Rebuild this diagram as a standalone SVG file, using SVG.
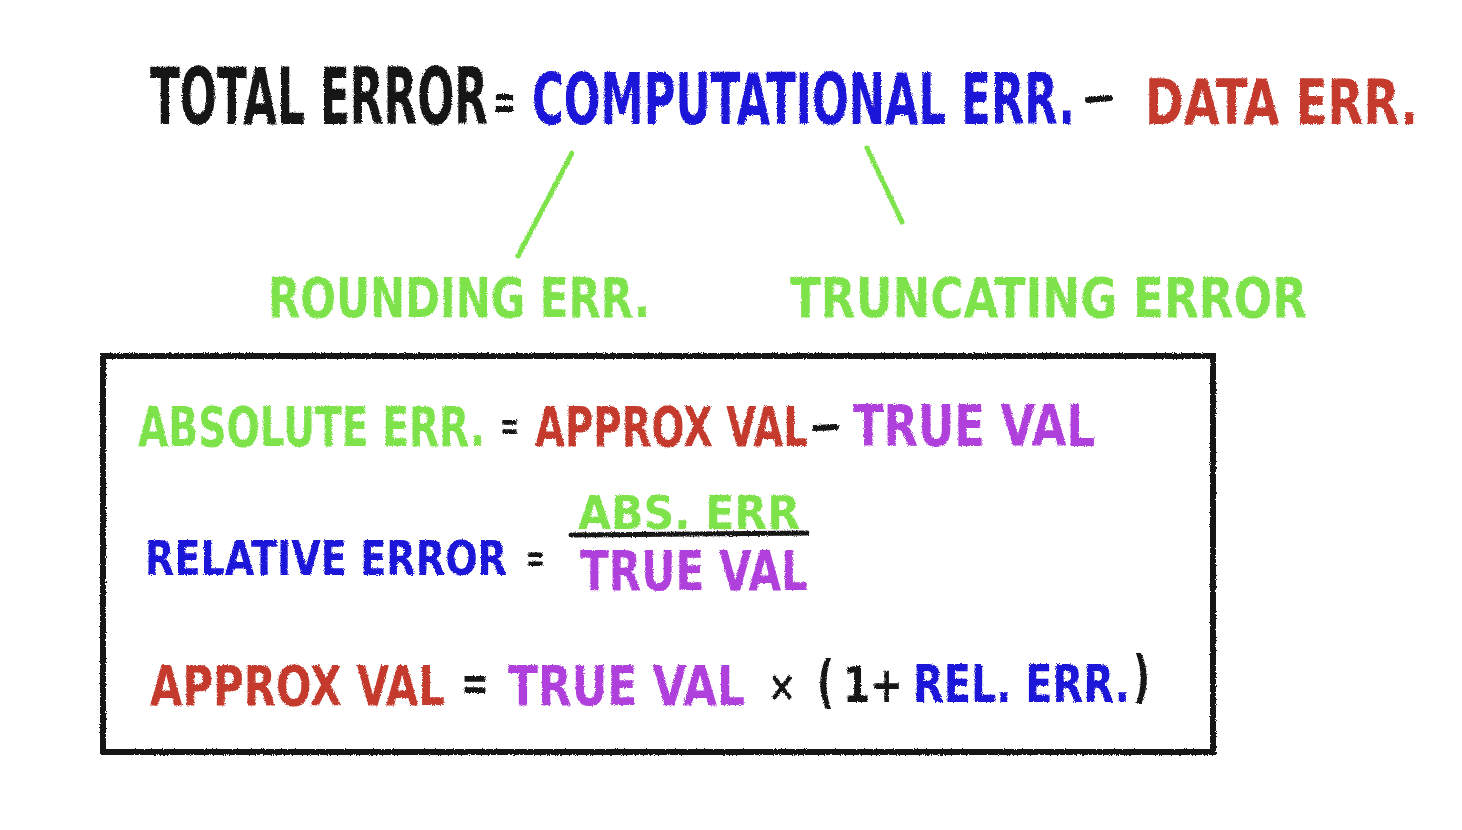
<svg xmlns="http://www.w3.org/2000/svg" width="1462" height="830" viewBox="0 0 1462 830">
<defs>
<filter id="crayon" x="-5%" y="-20%" width="110%" height="140%">
<feTurbulence type="fractalNoise" baseFrequency="0.9" numOctaves="2" seed="3" result="n"/>
<feDisplacementMap in="SourceGraphic" in2="n" scale="3" xChannelSelector="R" yChannelSelector="G"/>
</filter>
<style>
text{font-family:"DejaVu Sans Condensed","Liberation Sans Narrow","Liberation Sans",sans-serif;font-weight:bold;}
.k{fill:#141414}.b{fill:#1a12d8}.r{fill:#c43a2e}.g{fill:#7ee24c}.p{fill:#b040dc}
.ln{stroke-linecap:round;fill:none}
</style>
</defs>
<rect width="1462" height="830" fill="#ffffff"/>
<g filter="url(#crayon)">
<g id="total-error">
<text class="k" transform="translate(150,124) scale(1,1.65)" font-size="48" textLength="338" lengthAdjust="spacingAndGlyphs">TOTAL ERROR</text>
<text class="k" transform="translate(493,119) scale(1,1.3)" font-size="40" textLength="23" lengthAdjust="spacingAndGlyphs">=</text>
</g>
<g id="computational-err">
<text class="b" transform="translate(532,124) scale(1,1.53)" font-size="47" textLength="543" lengthAdjust="spacingAndGlyphs">COMPUTATIONAL ERR.</text>
</g>
<g id="minus-top"><line class="ln" x1="1088" y1="100" x2="1110" y2="98" stroke="#141414" stroke-width="6"/></g>
<g id="data-err">
<text class="r" transform="translate(1145,124) scale(1,1.23)" font-size="50" textLength="273" lengthAdjust="spacingAndGlyphs">DATA ERR.</text>
</g>
<g id="connectors">
<line class="ln" x1="572" y1="153" x2="518" y2="256" stroke="#7ee24c" stroke-width="5"/>
<line class="ln" x1="867" y1="148" x2="902" y2="222" stroke="#7ee24c" stroke-width="5"/>
</g>
<g id="rounding-err">
<text class="g" transform="translate(268,317) scale(1,1.2)" font-size="46" textLength="382" lengthAdjust="spacingAndGlyphs">ROUNDING ERR.</text>
</g>
<g id="truncating-error">
<text class="g" transform="translate(790,317) scale(1,1.13)" font-size="49" textLength="517" lengthAdjust="spacingAndGlyphs">TRUNCATING ERROR</text>
</g>
<g id="formula-box">
<rect x="103" y="356" width="1110" height="396" fill="none" stroke="#141414" stroke-width="6"/>
</g>
<g id="absolute-error">
<text class="g" transform="translate(138,446) scale(1,1.3)" font-size="43" textLength="347" lengthAdjust="spacingAndGlyphs">ABSOLUTE ERR.</text>
<text class="k" transform="translate(500,440) scale(1,1.3)" font-size="32" textLength="19" lengthAdjust="spacingAndGlyphs">=</text>
<text class="r" transform="translate(535,446) scale(1,1.32)" font-size="42" textLength="273" lengthAdjust="spacingAndGlyphs">APPROX VAL</text>
<line class="ln" x1="815" y1="428" x2="836" y2="427" stroke="#141414" stroke-width="6"/>
<text class="p" transform="translate(853,446) scale(1,1.15)" font-size="49" textLength="242" lengthAdjust="spacingAndGlyphs">TRUE VAL</text>
</g>
<g id="relative-error">
<text class="b" transform="translate(145,575) scale(1,1.14)" font-size="42" textLength="362" lengthAdjust="spacingAndGlyphs">RELATIVE ERROR</text>
<text class="k" transform="translate(526,572) scale(1,1.3)" font-size="30" textLength="19" lengthAdjust="spacingAndGlyphs">=</text>
<text class="g" transform="translate(578,529)" font-size="46" textLength="222" lengthAdjust="spacingAndGlyphs">ABS. ERR</text>
<line class="ln" x1="571" y1="535" x2="807" y2="533" stroke="#141414" stroke-width="5"/>
<text class="p" transform="translate(580,590) scale(1,1.19)" font-size="46" textLength="228" lengthAdjust="spacingAndGlyphs">TRUE VAL</text>
</g>
<g id="approx-val">
<text class="r" transform="translate(150,705) scale(1,1.19)" font-size="46" textLength="295" lengthAdjust="spacingAndGlyphs">APPROX VAL</text>
<text class="k" transform="translate(461,700) scale(1,1.3)" font-size="38" textLength="28" lengthAdjust="spacingAndGlyphs">=</text>
<text class="k" transform="translate(768,701)" font-size="42" textLength="28" lengthAdjust="spacingAndGlyphs">×</text>
<text class="p" transform="translate(508,705) scale(1,1.14)" font-size="48" textLength="237" lengthAdjust="spacingAndGlyphs">TRUE VAL</text>
<text class="k" transform="translate(817,701) scale(1,1.3)" font-size="44" textLength="17" lengthAdjust="spacingAndGlyphs">(</text>
<text class="k" transform="translate(843,702) scale(1,1.15)" font-size="43" textLength="60" lengthAdjust="spacingAndGlyphs">1+</text>
<text class="b" transform="translate(913,702) scale(1,1.17)" font-size="44" textLength="217" lengthAdjust="spacingAndGlyphs">REL. ERR.</text>
<text class="k" transform="translate(1133,696) scale(1,1.3)" font-size="44" textLength="17" lengthAdjust="spacingAndGlyphs">)</text>
</g>
</g>
</svg>
